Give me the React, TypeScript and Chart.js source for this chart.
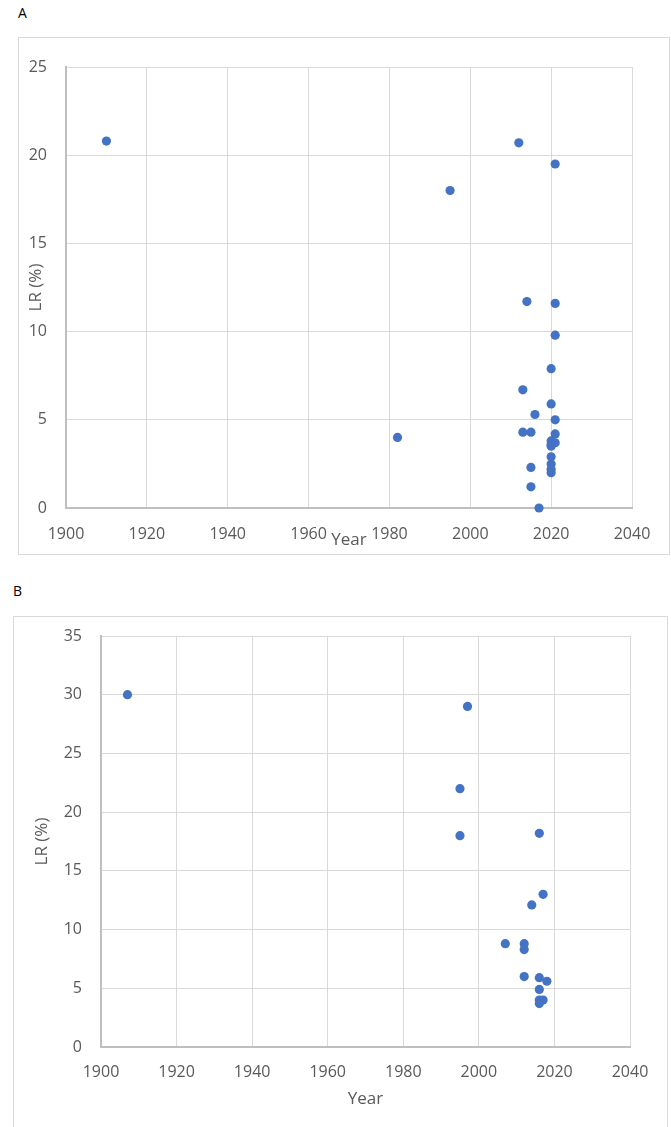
import React, { useEffect, useRef } from 'react';
import { Chart, registerables } from 'chart.js';

Chart.register(...registerables);

// ---- Data ----
const yearsA = [1910, 1995, 2012, 2021, 2014, 2021, 2021, 2020, 2013, 2020, 2016, 2021, 2013, 2015, 2021, 2020, 2021, 2020, 2020, 2020, 2020, 2020, 2020, 2015, 2015, 2017, 1982];
const lrA = [20.8, 18.0, 20.7, 19.5, 11.7, 11.6, 9.8, 7.9, 6.7, 5.9, 5.3, 5.0, 4.3, 4.3, 4.2, 3.8, 3.7, 3.6, 3.5, 2.9, 2.5, 2.2, 2.0, 2.3, 1.2, 0.0, 4.0];

const yearsB = [1907, 1997, 1995, 1995, 2016, 2017, 2014, 2007, 2012, 2012, 2012, 2016, 2018, 2016, 2016, 2017, 2016];
const lrB = [30, 29, 22, 18, 18.2, 13, 12.1, 8.8, 8.8, 8.3, 6.0, 5.9, 5.6, 4.9, 4.0, 4.0, 3.7];

const xTickValues = [1900, 1920, 1940, 1960, 1980, 2000, 2020, 2040];
const yTickValuesA = [0, 5, 10, 15, 20, 25];
const yTickValuesB = [0, 5, 10, 15, 20, 25, 30, 35];

const xTitle = 'Year';
const yTitle = 'LR (%)';
const panelLabels = ['A', 'B'];

const FONT = '"Open Sans"';
const TEXT = '#595959';
const GRID = '#d9d9d9';
const AXIS = '#bfbfbf';
const POINT = '#4472c4';

type Layout = {
  w: number; h: number;
  left: number; top: number; right: number; bottom: number;
  xTickPad: number; yTickPad: number;
  xTitlePadBottom: number; yTitlePadTop: number;
};

function Scatter(props: { years: number[]; values: number[]; yTicks: number[]; L: Layout }) {
  const ref = useRef<HTMLCanvasElement | null>(null);
  const { years, values, yTicks, L } = props;
  useEffect(() => {
    if (!ref.current) return;
    const data = years.map((x, i) => ({ x, y: values[i] }));
    const chart = new Chart(ref.current, {
      type: 'scatter',
      data: {
        datasets: [{
          data,
          backgroundColor: POINT,
          borderWidth: 0,
          pointRadius: 4.6,
          pointHoverRadius: 4.6,
          clip: false as any,
        }],
      },
      options: {
        animation: false,
        responsive: false,
        devicePixelRatio: 1,
        events: [],
        layout: { padding: { left: 0, top: L.top, right: L.w - L.right, bottom: 0 } },
        plugins: { legend: { display: false }, tooltip: { enabled: false } },
        scales: {
          x: {
            type: 'linear',
            min: xTickValues[0],
            max: xTickValues[xTickValues.length - 1],
            afterBuildTicks: (s: any) => { s.ticks = xTickValues.map((v) => ({ value: v })); },
            afterFit: (s: any) => { s.height = L.h - L.bottom; s.paddingLeft = 0; s.paddingRight = 0; },
            grid: { color: GRID, lineWidth: 1, drawTicks: false },
            border: { color: AXIS, width: 2 },
            ticks: {
              color: TEXT,
              padding: L.xTickPad,
              font: { family: FONT, size: 16 },
              callback: (v: any) => String(v),
              maxRotation: 0,
              autoSkip: false,
            },
            title: {
              display: true,
              text: xTitle,
              color: TEXT,
              font: { family: FONT, size: 17 },
              padding: { top: 0, bottom: L.xTitlePadBottom },
            },
          },
          y: {
            type: 'linear',
            min: yTicks[0],
            max: yTicks[yTicks.length - 1],
            afterBuildTicks: (s: any) => { s.ticks = yTicks.map((v) => ({ value: v })); },
            afterFit: (s: any) => { s.width = L.left; s.paddingTop = 0; s.paddingBottom = 0; },
            grid: { color: GRID, lineWidth: 1, drawTicks: false },
            border: { color: AXIS, width: 2 },
            ticks: {
              color: TEXT,
              padding: L.yTickPad,
              font: { family: FONT, size: 16 },
              callback: (v: any) => String(v),
              autoSkip: false,
            },
            title: {
              display: true,
              text: yTitle,
              color: TEXT,
              font: { family: FONT, size: 17 },
              padding: { top: L.yTitlePadTop, bottom: 0 },
            },
          },
        },
      },
    });
    return () => chart.destroy();
  }, []);
  return <canvas ref={ref} width={L.w} height={L.h} style={{ width: L.w, height: L.h, display: 'block' }} />;
}

const layoutA: Layout = {
  w: 650, h: 516, left: 47, top: 29, right: 613, bottom: 470,
  xTickPad: 16.4, yTickPad: 19, xTitlePadBottom: 4, yTitlePadTop: 6.5,
};
const layoutB: Layout = {
  w: 653, h: 511, left: 87, top: 19, right: 616, bottom: 430,
  xTickPad: 15.4, yTickPad: 19, xTitlePadBottom: 19, yTitlePadTop: 18,
};

export default function App() {
  return (
    <div style={{ position: 'absolute', left: 0, top: 0, width: 671, height: 1127, overflow: 'hidden', background: '#fff', fontFamily: FONT }}>
      <div style={{ position: 'absolute', left: 18, top: 4, fontSize: 14, lineHeight: '18px', color: '#000' }}>{panelLabels[0]}</div>
      <div style={{ position: 'absolute', left: 18, top: 37, border: `1px solid ${GRID}` }}>
        <Scatter years={yearsA} values={lrA} yTicks={yTickValuesA} L={layoutA} />
      </div>
      <div style={{ position: 'absolute', left: 13, top: 582, fontSize: 14, lineHeight: '18px', color: '#000' }}>{panelLabels[1]}</div>
      <div style={{ position: 'absolute', left: 13, top: 616, border: `1px solid ${GRID}` }}>
        <Scatter years={yearsB} values={lrB} yTicks={yTickValuesB} L={layoutB} />
      </div>
    </div>
  );
}
